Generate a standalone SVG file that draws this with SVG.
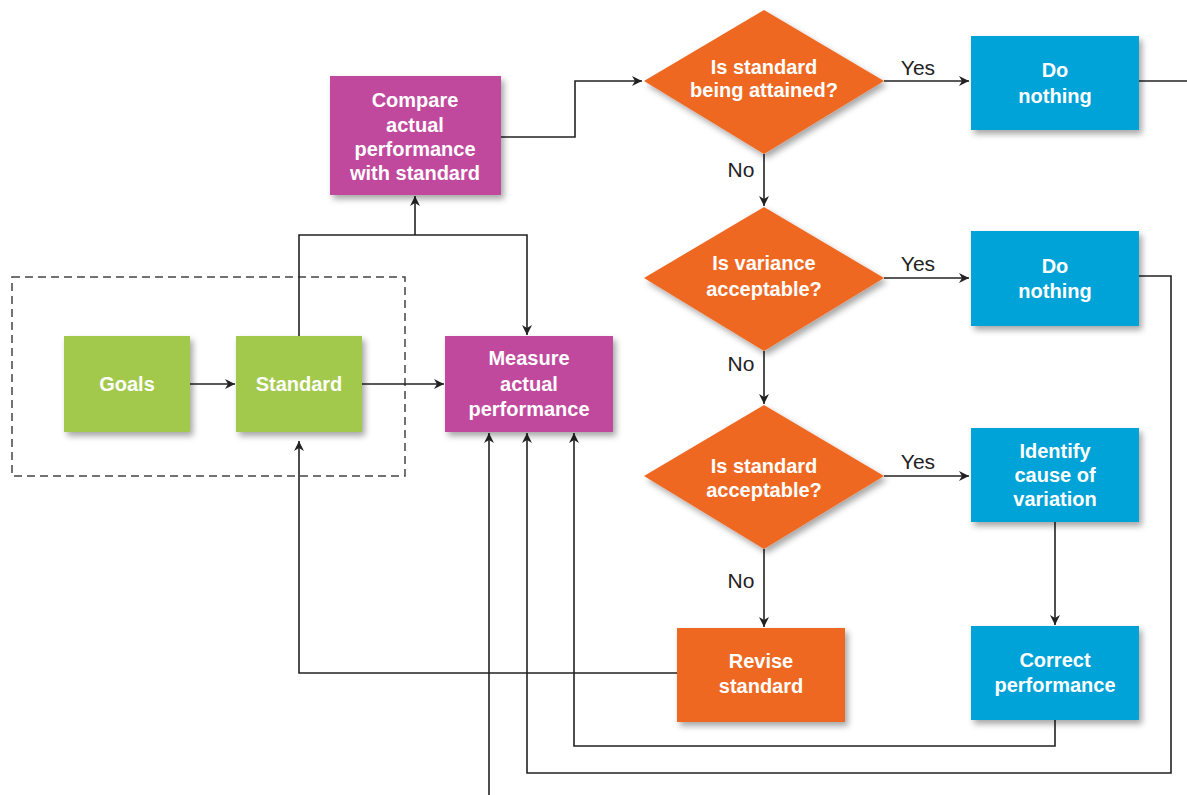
<svg xmlns="http://www.w3.org/2000/svg" width="1187" height="795" viewBox="0 0 1187 795">
<style>
.t{font-family:"Liberation Sans",Arial,sans-serif;font-size:20px;font-weight:bold;fill:#fff;text-anchor:middle}
.l{font-family:"Liberation Sans",Arial,sans-serif;font-size:21px;fill:#222;text-anchor:middle}
.c{fill:none;stroke:#222;stroke-width:1.6}
.green{fill:#a2c94b}
.mag{fill:#c1489d}
.org{fill:#ef6823}
.blue{fill:#00a3d7}
</style>
<defs>
<filter id="sh" x="-20%" y="-20%" width="150%" height="150%">
<feDropShadow dx="3" dy="4" stdDeviation="3" flood-color="#000" flood-opacity="0.35"/>
</filter>
<marker id="ar" viewBox="0 0 10 10" refX="10" refY="5" markerWidth="10" markerHeight="10" markerUnits="userSpaceOnUse" orient="auto">
<path d="M0,0 L10,5 L0,10 L3,5 z" fill="#222"/>
</marker>
</defs>
<rect x="12" y="277" width="393" height="199" fill="none" stroke="#444" stroke-width="1.5" stroke-dasharray="8 5"/>
<g id="connectors">
<path class="c" d="M190,384 H235" marker-end="url(#ar)"/>
<path class="c" d="M362,384 H444" marker-end="url(#ar)"/>
<path class="c" d="M299,336 V235 H527 V335" marker-end="url(#ar)"/>
<path class="c" d="M415,235 V196" marker-end="url(#ar)"/>
<path class="c" d="M501,137 H575 V81 H642" marker-end="url(#ar)"/>
<path class="c" d="M884,81 H969" marker-end="url(#ar)"/>
<path class="c" d="M764,154 V206" marker-end="url(#ar)"/>
<path class="c" d="M884,278 H969" marker-end="url(#ar)"/>
<path class="c" d="M764,351 V404" marker-end="url(#ar)"/>
<path class="c" d="M884,476 H969" marker-end="url(#ar)"/>
<path class="c" d="M764,549 V627" marker-end="url(#ar)"/>
<path class="c" d="M1055,522 V625" marker-end="url(#ar)"/>
<path class="c" d="M1055,720 V746 H574 V433" marker-end="url(#ar)"/>
<path class="c" d="M1139,276 H1171 V773 H527 V433" marker-end="url(#ar)"/>
<path class="c" d="M1139,81 H1187"/>
<path class="c" d="M677,673 H299 V441" marker-end="url(#ar)"/>
<path class="c" d="M489,795 V433" marker-end="url(#ar)"/>
<text class="l" x="918" y="75">Yes</text>
<text class="l" x="918" y="271">Yes</text>
<text class="l" x="918" y="469">Yes</text>
<text class="l" x="741" y="177">No</text>
<text class="l" x="741" y="371">No</text>
<text class="l" x="741" y="588">No</text>
</g>
<g id="goals">
<rect class="green" x="64" y="336" width="126" height="96" filter="url(#sh)"/>
<text class="t" x="127" y="391">Goals</text>
</g>
<g id="standard">
<rect class="green" x="236" y="336" width="126" height="96" filter="url(#sh)"/>
<text class="t" x="299" y="391">Standard</text>
</g>
<g id="measure">
<rect class="mag" x="445" y="336" width="168" height="96" filter="url(#sh)"/>
<text class="t" x="529" y="365">Measure</text>
<text class="t" x="529" y="391">actual</text>
<text class="t" x="529" y="416">performance</text>
</g>
<g id="compare">
<rect class="mag" x="330" y="76" width="171" height="119" filter="url(#sh)"/>
<text class="t" x="415" y="107">Compare</text>
<text class="t" x="415" y="132">actual</text>
<text class="t" x="415" y="156">performance</text>
<text class="t" x="415" y="180">with standard</text>
</g>
<g id="d1">
<polygon class="org" points="764,10 884,81 764,154 644,81" filter="url(#sh)"/>
<text class="t" x="764" y="74">Is standard</text>
<text class="t" x="764" y="97">being attained?</text>
</g>
<g id="d2">
<polygon class="org" points="764,207 884,278 764,351 644,278" filter="url(#sh)"/>
<text class="t" x="764" y="270">Is variance</text>
<text class="t" x="764" y="296">acceptable?</text>
</g>
<g id="d3">
<polygon class="org" points="764,405 884,476 764,549 644,476" filter="url(#sh)"/>
<text class="t" x="764" y="473">Is standard</text>
<text class="t" x="764" y="497">acceptable?</text>
</g>
<g id="nothing1">
<rect class="blue" x="971" y="36" width="168" height="94" filter="url(#sh)"/>
<text class="t" x="1055" y="77">Do</text>
<text class="t" x="1055" y="103">nothing</text>
</g>
<g id="nothing2">
<rect class="blue" x="971" y="231" width="168" height="95" filter="url(#sh)"/>
<text class="t" x="1055" y="273">Do</text>
<text class="t" x="1055" y="298">nothing</text>
</g>
<g id="identify">
<rect class="blue" x="971" y="428" width="168" height="94" filter="url(#sh)"/>
<text class="t" x="1055" y="458">Identify</text>
<text class="t" x="1055" y="482">cause of</text>
<text class="t" x="1055" y="506">variation</text>
</g>
<g id="correct">
<rect class="blue" x="971" y="626" width="168" height="94" filter="url(#sh)"/>
<text class="t" x="1055" y="667">Correct</text>
<text class="t" x="1055" y="692">performance</text>
</g>
<g id="revise">
<rect class="org" x="677" y="628" width="168" height="94" filter="url(#sh)"/>
<text class="t" x="761" y="668">Revise</text>
<text class="t" x="761" y="693">standard</text>
</g>
</svg>
